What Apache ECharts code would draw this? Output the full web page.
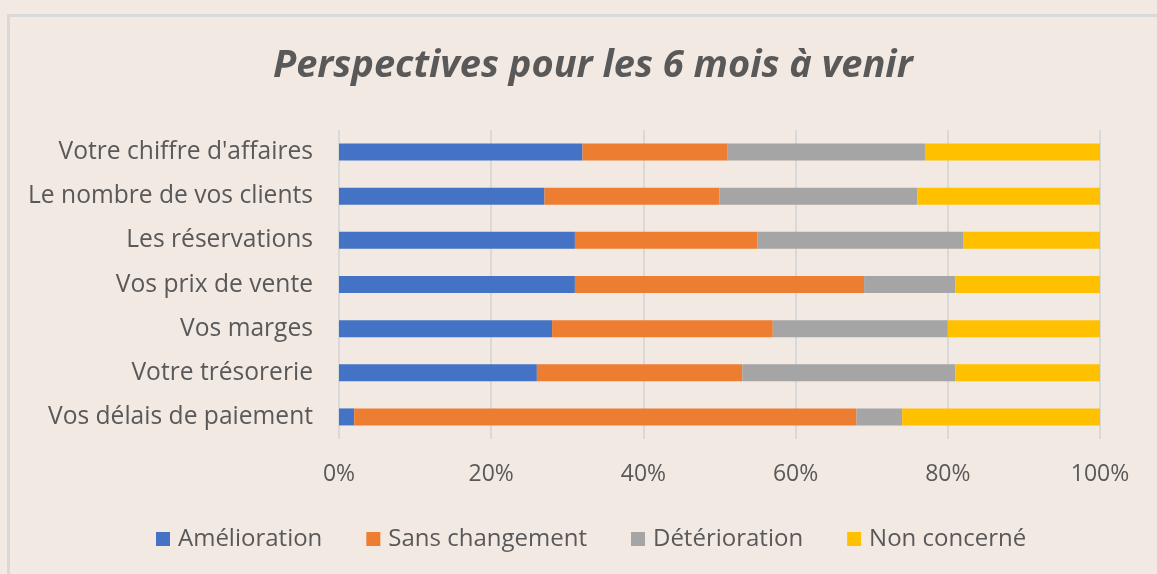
<!DOCTYPE html>
<html>
<head>
<meta charset="utf-8">
<script src="https://cdn.jsdelivr.net/npm/echarts@6/dist/echarts.min.js"></script>
<style>
  html, body { margin: 0; padding: 0; background: #f2e9e3; }
  #main { width: 1157px; height: 574px; }
</style>
</head>
<body>
<div id="main"></div>
<script>
// catégories, de haut en bas
var categories = [
    "Votre chiffre d'affaires",
    'Le nombre de vos clients',
    'Les réservations',
    'Vos prix de vente',
    'Vos marges',
    'Votre trésorerie',
    'Vos délais de paiement'
];
var amelioration    = [32, 27, 31, 31, 28, 26, 2];
var sansChangement  = [19, 23, 24, 38, 29, 27, 66];
var deterioration   = [26, 26, 27, 12, 23, 28, 6];
var nonConcerne     = [23, 24, 18, 19, 20, 19, 26];
var tickLabels = ['0%', '20%', '40%', '60%', '80%', '100%'];

var myChart = echarts.init(document.getElementById('main'));
var fontFam = '"Open Sans", "Noto Sans", sans-serif';

function serie(name, data, color) {
    return {
        name: name,
        type: 'bar',
        stack: 'total',
        barWidth: 17,
        data: data,
        itemStyle: { color: color },
        emphasis: { disabled: true }
    };
}

var option = {
    backgroundColor: '#f2e9e3',
    animation: false,
    textStyle: { fontFamily: fontFam },
    title: {
        text: 'Perspectives pour les 6 mois à venir',
        left: 268,
        top: 42,
        textStyle: {
            fontFamily: fontFam,
            fontSize: 38,
            fontWeight: 'bold',
            fontStyle: 'italic',
            color: '#595959'
        }
    },
    graphic: [{
        type: 'rect',
        shape: { x: 8.5, y: 15.5, width: 1160, height: 600 },
        style: { fill: 'none', stroke: '#d9d9d9', lineWidth: 3 },
        silent: true
    }],
    legend: {
        bottom: 18,
        left: 151,
        itemWidth: 14,
        itemHeight: 14,
        itemGap: 44,
        icon: 'rect',
        textStyle: { fontSize: 24, color: '#595959', fontFamily: fontFam, padding: [0, 0, 0, 3] }
    },
    grid: { left: 339, right: 57, top: 130, bottom: 135 },
    xAxis: {
        type: 'value',
        min: 0,
        max: 100,
        interval: 20,
        axisLine: { show: false },
        axisTick: { show: false },
        splitLine: { lineStyle: { color: '#d9d9d9', width: 2 } },
        axisLabel: {
            margin: 24,
            fontSize: 23,
            color: '#595959',
            fontFamily: fontFam,
            formatter: function (v) { return tickLabels[v / 20]; }
        }
    },
    yAxis: {
        type: 'category',
        inverse: true,
        data: categories,
        axisLine: { show: false },
        axisTick: { show: false },
        axisLabel: { margin: 26, fontSize: 24.6, color: '#595959', fontFamily: fontFam }
    },
    series: [
        serie('Amélioration', amelioration, '#4472c4'),
        serie('Sans changement', sansChangement, '#ed7d31'),
        serie('Détérioration', deterioration, '#a5a5a5'),
        serie('Non concerné', nonConcerne, '#ffc000')
    ]
};

myChart.setOption(option);
</script>
</body>
</html>
